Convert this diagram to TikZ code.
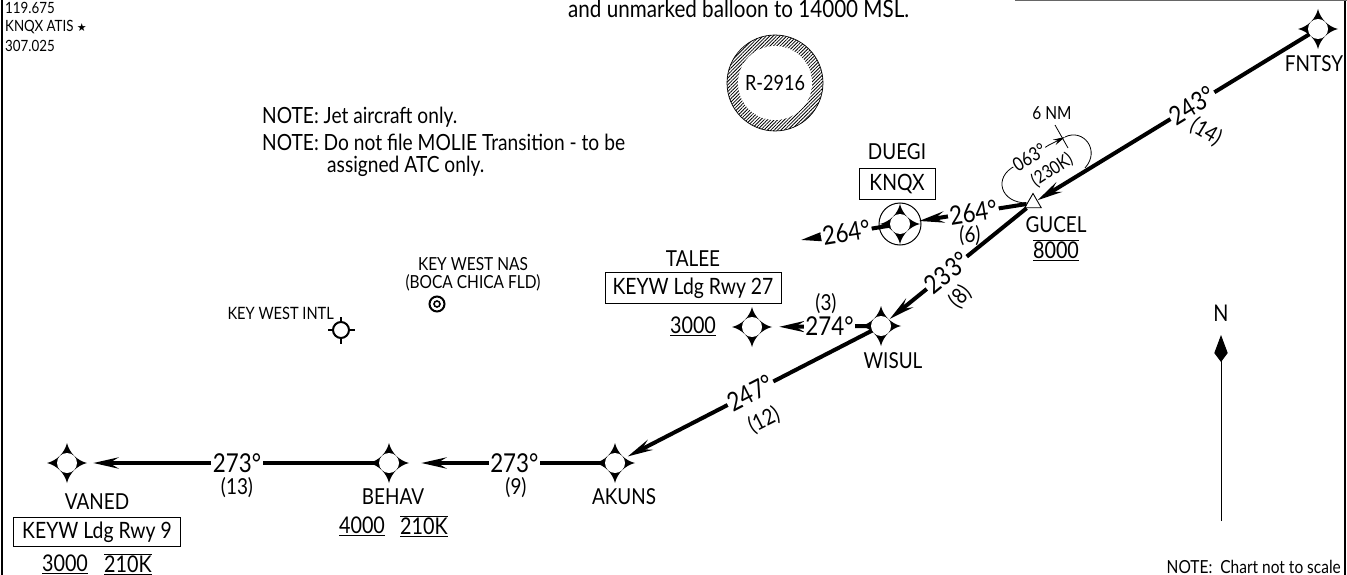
\documentclass[tikz,border=0pt]{standalone}
\usepackage{fontspec}
\setmainfont{Lato}[FakeStretch=0.86]
\newfontfamily\symfont{DejaVu Sans}
\usetikzlibrary{positioning,arrows.meta,patterns.meta,shapes.geometric}
\newcommand{\txtsize}[1]{\fontsize{#1}{#1}\selectfont}
\newcommand{\altu}[1]{\underline{\hbox{#1}}}
\newcommand{\spdlim}[1]{$\overline{\underline{\hbox{#1}}}$}
\begin{document}
\begin{tikzpicture}[
  x=1pt, y=-1pt,
  fixnode/.style={circle, fill=white, inner sep=0pt, minimum size=20pt},
  fixname/.style={font=\txtsize{22}, inner sep=0pt},
  chartbox/.style={rectangle, draw, line width=0.9pt, font=\txtsize{22.5}, inner sep=0pt, minimum height=31pt},
  altitude/.style={font=\txtsize{23}, inner sep=0pt},
  note/.style={font=\txtsize{22.3}, inner sep=0pt, anchor=west},
  leg/.style={line width=4pt, -{Stealth[length=25pt, width=11pt, inset=9pt]}},
  bearing/.style={font=\txtsize{26}, fill=white, inner sep=1.5pt},
  dist/.style={font=\txtsize{22}, inner sep=0pt}
]
\useasboundingbox (0,0) rectangle (1347,575);
% frame
\draw[line width=2.4pt] (2,0) -- (2,575);
\draw[line width=2.4pt] (1345,0) -- (1345,575);
\draw[line width=1pt, black!60] (1015,0.5) -- (1347,0.5);

% header
\node[font=\txtsize{15.5}, inner sep=0pt, anchor=west] (freq) at (5,8) {119.675};
\node[font=\txtsize{15.5}, inner sep=0pt, anchor=west] (atis) at (5,27) {KNQX ATIS {\symfont\txtsize{11}★}};
\node[font=\txtsize{15.5}, inner sep=0pt, anchor=west] (uhf) at (5,46) {307.025};
\node[note, font=\txtsize{24}] (balloon) at (568,9) {and unmarked balloon to 14000 MSL.};

% restricted area
\draw[pattern={Lines[angle=45, distance=2.4pt, line width=0.8pt]}, line width=0.7pt] (775,83) circle (48pt);
\node[circle, fill=white, minimum size=74pt, inner sep=0pt, font=\txtsize{21}] (restricted) at (775,83) {R-2916};

% notes
\node[note] (note1) at (262,117) {NOTE: Jet aircraft only.};
\node[note] (note2) at (262,142) {NOTE: Do not file MOLIE Transition - to be};
\node[note] (note3) at (327,166) {assigned ATC only.};
\node[font=\txtsize{18}, inner sep=0pt, anchor=east] (note4) at (1341,567) {NOTE:\ \ Chart not to scale};

% airports
\node[font=\txtsize{18}, inner sep=0pt, align=center] (nasname) at (473,274) {KEY WEST NAS\\(BOCA CHICA FLD)};
\node[circle, draw, line width=2pt, inner sep=0pt, minimum size=15pt] (nas) at (437,304) {};
\node[circle, draw, line width=1.6pt, inner sep=0pt, minimum size=6pt] (nasin) at (437,304) {};
\node[font=\txtsize{17}, inner sep=0pt, anchor=east] (intlname) at (334,313) {KEY WEST INTL};
\node[circle, draw, line width=2pt, inner sep=0pt, minimum size=16pt] (intl) at (341,330) {};
\draw[line width=1.6pt] (intl.north) -- ++(0,-4.5);
\draw[line width=1.6pt] (intl.south) -- ++(0,4.5);
\draw[line width=1.6pt] (intl.east) -- ++(4.5,0);
\draw[line width=1.6pt] (intl.west) -- ++(-4.5,0);

% fixes
\node[circle, draw, line width=1pt, inner sep=0pt, minimum size=42pt] (duegiring) at (900,224) {};
\foreach \name/\x/\y in {fntsy/1318/29, duegi/900/224, wisul/881/326, talee/752/327, akuns/615/463, behav/389/463, vaned/67/463} {
  \fill[shift={(\x,\y)}] (0,-20) .. controls (2.5,-10) and (10,-2.5) .. (20,0)
    .. controls (10,2.5) and (2.5,10) .. (0,20)
    .. controls (-2.5,10) and (-10,2.5) .. (-20,0)
    .. controls (-10,-2.5) and (-2.5,-10) .. (0,-20);
  \node[fixnode] (\name) at (\x,\y) {};
}
\node[regular polygon, regular polygon sides=3, draw, fill=white, line width=0.9pt, inner sep=0pt, minimum size=19pt] (gucel) at (1033,203) {};
\coordinate (duegiout) at (801,240);

% fix labels
\node[fixname] (fntsyname) at (1314,64) {FNTSY};
\node[fixname] (gucelname) at (1056,225) {GUCEL};
\node[altitude] (gucelalt) at (1056,250) {\spdlim{8000}};
\node[chartbox, minimum width=76pt] (duegibox) at (897,184) {KNQX};
\node[fixname, above=8pt of duegibox] (dueginame) {DUEGI};
\node[chartbox, minimum width=176pt] (taleebox) at (693,288) {KEYW Ldg Rwy 27};
\node[fixname, above=5pt of taleebox] (taleename) {TALEE};
\node[altitude, below=13pt of taleebox] (taleealt) {\altu{3000}};
\node[fixname] (wisulname) at (893,361) {WISUL};
\node[fixname] (akunsname) at (624,497) {AKUNS};
\node[fixname] (behavname) at (393,497) {BEHAV};
\node[altitude] (behavalt) at (362,526) {\altu{4000}};
\node[altitude] (behavspd) at (424,526) {\spdlim{210K}};
\node[chartbox, minimum width=167pt, minimum height=29pt] (vanedbox) at (97,532) {KEYW Ldg Rwy 9};
\node[fixname, above=7pt of vanedbox] (vanedname) {VANED};
\node[altitude] (vanedalt) at (65,564) {\altu{3000}};
\node[altitude] (vanedspd) at (128,564) {\spdlim{210K}};

% holding pattern
\coordinate (holdleft) at (1015,166);
\coordinate (holdtip) at (1065,137);
\coordinate (holdend) at (1085,168);
\draw[line width=0.8pt] (gucel.west) .. controls (1000,203) and (993,177) .. (holdleft)
  -- node[sloped, fill=white, font=\txtsize{19}, inner sep=1pt, pos=0.42] {063°} (1049,145);
\draw[line width=0.8pt, -{Stealth[length=12pt, width=6pt, inset=4pt]}] (1049,145) -- (holdtip);
\draw[line width=0.8pt] (holdtip) .. controls (1083,128) and (1101,150) .. (holdend);
\node[font=\txtsize{18}, inner sep=0pt, rotate=33] (holdspeed) at (1052,170) {(230K)};
\node[font=\txtsize{18}, inner sep=0pt] (holddist) at (1052,113) {6 NM};
\coordinate (ticktop) at (1055,125);
\coordinate (tickbot) at (1068,148);
\draw[line width=0.8pt] (ticktop) -- (tickbot);

% legs
\draw[leg] (fntsy) -- node[bearing, sloped, pos=0.43] (b1) {243°} (gucel);
\node[dist, rotate=-31] (d1) at (1206,132) {(14)};
\draw[leg, shorten >=9pt] (gucel) -- node[bearing, sloped, pos=0.456] (b2) {264°} (duegi);
\node[dist] (d2) at (970,236) {(6)};
\draw[leg] (duegi) -- node[bearing, sloped, pos=0.49] (b3) {264°} (duegiout);
\draw[leg, shorten >=1pt] (gucel) -- node[bearing, sloped, pos=0.58] (b4) {233°} (wisul);
\node[dist, rotate=47] (d4) at (960,297) {(8)};
\draw[leg, shorten >=17pt] (wisul) -- node[bearing, pos=0.38] (b5) {274°} (talee);
\node[dist] (d5) at (826,304) {(3)};
\draw[leg, shorten >=4pt] (wisul) -- node[bearing, sloped, pos=0.49] (b6) {247°} (akuns);
\node[dist, rotate=27] (d6) at (764,420) {(12)};
\draw[leg, shorten >=22pt] (akuns) -- node[bearing, pos=0.44] (b7) {273°} (behav);
\node[dist] (d7) at (516,488) {(9)};
\draw[leg, shorten >=16pt] (behav) -- node[bearing, pos=0.47] (b8) {273°} (vaned);
\node[dist] (d8) at (237,488) {(13)};

% north arrow
\node[font=\txtsize{23}, inner sep=0pt] (north) at (1221,313) {N};
\coordinate (nfoot) at (1221,521);
\coordinate (nhead) at (1221,335);
\draw[line width=1pt, -{Kite[length=27pt, width=13.4pt, inset=9pt]}] (nfoot) -- (nhead);
\end{tikzpicture}
\end{document}
